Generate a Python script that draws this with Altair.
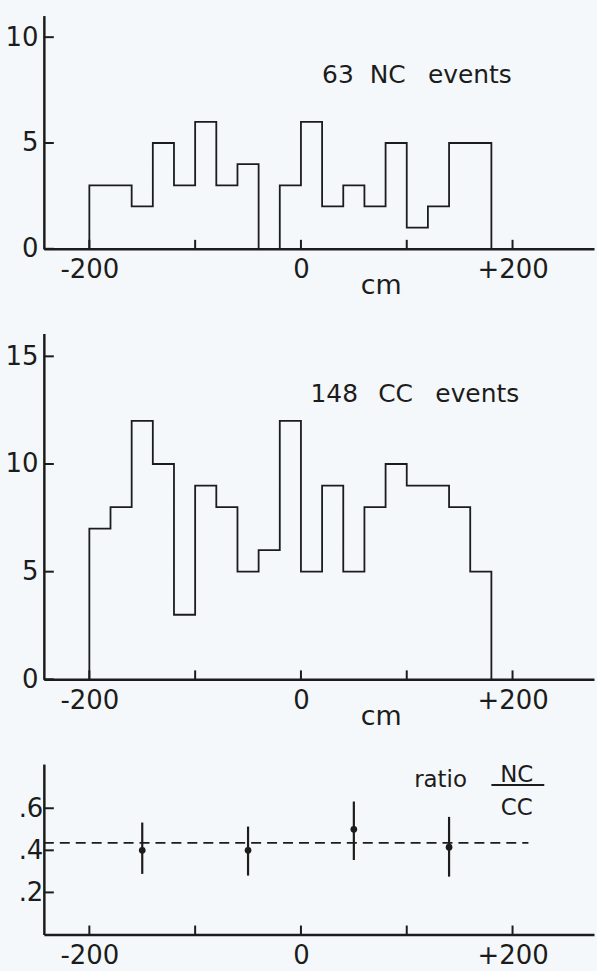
import altair as alt
import pandas as pd

# ---------------- data ----------------
bin_left = [-200, -180, -160, -140, -120, -100, -80, -60, -40, -20,
            0, 20, 40, 60, 80, 100, 120, 140, 160]
bin_width = 20
nc_counts = [3, 3, 2, 5, 3, 6, 3, 4, 0, 3, 6, 2, 3, 2, 5, 1, 2, 5, 5]
cc_counts = [7, 8, 12, 10, 3, 9, 8, 5, 6, 12, 5, 9, 5, 8, 10, 9, 9, 8, 5]

ratio_x = [-150, -50, 50, 140]
ratio_y = [0.40, 0.40, 0.50, 0.415]
ratio_lo = [0.288, 0.280, 0.354, 0.275]
ratio_hi = [0.532, 0.513, 0.632, 0.559]
ratio_mean = 0.435
ratio_line_end = 215

x_ticks = [-200, -100, 0, 100, 200]
x_labels = [-200, 0, 200]
nc_yticks = [0, 5, 10]
cc_yticks = [0, 5, 10, 15]
r_yticks = [0.2, 0.4, 0.6]

nc_text = [("63", 20), ("NC", 65), ("events", 120)]
nc_text_y = 7.85
cc_text = [("148", 9), ("CC", 73), ("events", 127)]
cc_text_y = 12.88

# ---------------- style ----------------
INK = "#1c1c1c"
FONT = "DejaVu Sans"
W = 552
XDOM = [-243, 277]
xscale = alt.Scale(domain=XDOM, nice=False, zero=False)


def outline(counts):
    rows = [{"x": bin_left[0], "y": 0}]
    for l, c in zip(bin_left, counts):
        rows.append({"x": l, "y": c})
        rows.append({"x": l + bin_width, "y": c})
    rows.append({"x": bin_left[-1] + bin_width, "y": 0})
    df = pd.DataFrame(rows)
    df["i"] = range(len(df))
    return df


def x_axis(title, title_x):
    return alt.Axis(values=x_labels, ticks=False, grid=False,
                    labelExpr="datum.value > 0 ? '+' + datum.value : '' + datum.value",
                    domainWidth=2.5, domainColor=INK, labelColor=INK,
                    labelFont=FONT, labelFontSize=26, labelPadding=8,
                    labelFlush=False, labelOverlap=False,
                    title=title, titleX=title_x, titleY=45,
                    titleBaseline="alphabetic", titleAlign="center",
                    titleFont=FONT, titleFontSize=27, titleFontWeight="normal",
                    titleColor=INK)


def y_axis(vals, pad, expr=None):
    kw = dict(values=vals, ticks=False, grid=False, domainWidth=2.5,
              domainColor=INK, labelColor=INK, labelFont=FONT,
              labelFontSize=26, labelPadding=pad, title="")
    if expr:
        kw["labelExpr"] = expr
    return alt.Axis(**kw)


def build_panel(h, ysc, xax, yax, yticks, main_layers_fn):
    X = lambda f: alt.X(f, scale=xscale, axis=xax)
    Y = lambda f: alt.Y(f, scale=ysc, axis=yax)
    layers = main_layers_fn(X, Y)
    xt = alt.Chart(pd.DataFrame({"x": x_ticks})).mark_rule(
        color=INK, strokeWidth=2).encode(
        x=X("x:Q"), y=alt.value(h), y2=alt.value(h - 9))
    yt = alt.Chart(pd.DataFrame({"y": yticks})).mark_rule(
        color=INK, strokeWidth=2).encode(
        y=Y("y:Q"), x=alt.value(0), x2=alt.value(10))
    return alt.layer(*layers, xt, yt).properties(width=W, height=h)


def text_chart(X, Y, items, ty, size, align="left"):
    df = pd.DataFrame({"x": [p for _, p in items], "y": [ty] * len(items),
                       "t": [s for s, _ in items]})
    return alt.Chart(df).mark_text(align=align, baseline="alphabetic",
                                   font=FONT, fontSize=size, color=INK).encode(
        x=X("x:Q"), y=Y("y:Q"), text="t:N")


def hist_panel(counts, h, ymax, yticks, items, ty):
    ysc = alt.Scale(domain=[0, ymax], nice=False, zero=True)

    def fn(X, Y):
        line = alt.Chart(outline(counts)).mark_line(
            color=INK, strokeWidth=1.8, strokeJoin="miter").encode(
            x=X("x:Q"), y=Y("y:Q"), order="i:Q")
        return [line, text_chart(X, Y, items, ty, 25)]

    return build_panel(h, ysc, x_axis("cm", 338), y_axis(yticks, 6), yticks, fn)


p1 = hist_panel(nc_counts, 234, 11.02, nc_yticks, nc_text, nc_text_y)
p2 = hist_panel(cc_counts, 347, 16.06, cc_yticks, cc_text, cc_text_y)

# ratio panel
H3 = 171
ysc3 = alt.Scale(domain=[0, 0.81], nice=False, zero=True)
rdf = pd.DataFrame({"x": ratio_x, "y": ratio_y, "lo": ratio_lo, "hi": ratio_hi})


def ratio_fn(X, Y):
    bars = alt.Chart(rdf).mark_rule(color=INK, strokeWidth=2.2).encode(
        x=X("x:Q"), y=Y("lo:Q"), y2="hi:Q")
    pts = alt.Chart(rdf).mark_circle(color=INK, opacity=1, size=45).encode(
        x=X("x:Q"), y=Y("y:Q"))
    mean = alt.Chart(pd.DataFrame({"y": [ratio_mean], "x": [XDOM[0]],
                                   "x2": [ratio_line_end]})).mark_rule(
        color=INK, strokeWidth=1.8, strokeDash=[10, 6]).encode(
        x=X("x:Q"), x2="x2:Q", y=Y("y:Q"))
    word = text_chart(X, Y, [("ratio", 107)], 0.700, 23)
    frac = alt.Chart(pd.DataFrame({"x": [204, 204], "y": [0.725, 0.569],
                                   "t": ["NC", "CC"]})).mark_text(
        align="center", baseline="alphabetic", font=FONT, fontSize=23,
        color=INK).encode(x=X("x:Q"), y=Y("y:Q"), text="t:N")
    bar = alt.Chart(pd.DataFrame({"x": [180], "x2": [230], "y": [0.711]})).mark_rule(
        color=INK, strokeWidth=2).encode(x=X("x:Q"), x2="x2:Q", y=Y("y:Q"))
    return [bars, pts, mean, word, frac, bar]


p3 = build_panel(H3, ysc3, x_axis("", 0),
                 y_axis(r_yticks, 1, "slice(format(datum.value, '.1f'), 1)"),
                 r_yticks, ratio_fn)

chart = alt.vconcat(p1, p2, p3, spacing=85, bounds="flush").properties(
    background="#f4f8fa",
    padding={"left": 4, "top": 13, "right": 2, "bottom": 2},
).configure_view(stroke="transparent")

chart.save("out.html", embed_options={"renderer": "svg", "actions": False})
